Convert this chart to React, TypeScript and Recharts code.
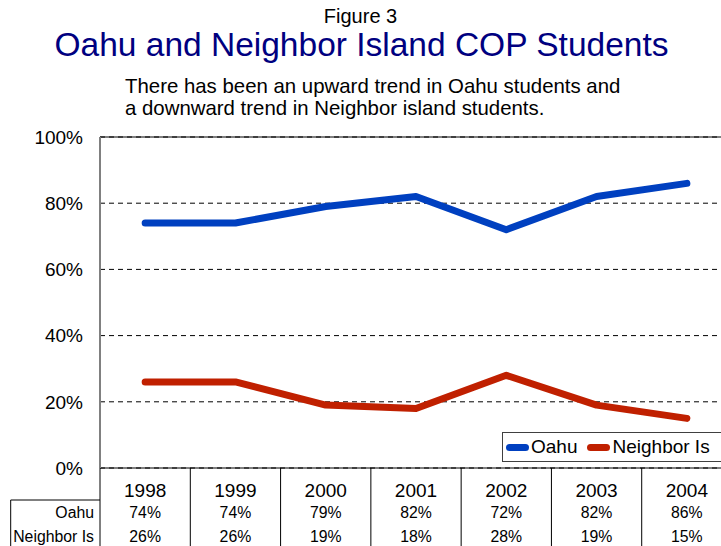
import { CartesianGrid, Line, LineChart, ReferenceLine, XAxis, YAxis } from 'recharts';

const years = ['1998', '1999', '2000', '2001', '2002', '2003', '2004'];
const oahu = [0.74, 0.74, 0.79, 0.82, 0.72, 0.82, 0.86];
const neighbor = [0.26, 0.26, 0.19, 0.18, 0.28, 0.19, 0.15];
const yTicks = [0, 0.2, 0.4, 0.6, 0.8, 1];
const seriesNames = ['Oahu', 'Neighbor Is'];
const seriesColors = ['#0040C0', '#C02000'];

const data = years.map((year, i) => ({ year, oahu: oahu[i], neighbor: neighbor[i] }));

const FONT = '"Liberation Sans", Arial, Helvetica, sans-serif';
const PAD = 45.15; // half a category step
const pct = (v: number) => `${Math.round(v * 100)}%`;

function TableTick(props: any) {
  const { x, y, payload } = props;
  const i = payload.index ?? props.index;
  const left = x - PAD;
  const right = x + PAD;
  const labelLeft = left - 2 * PAD + 1;
  return (
    <g fontFamily={FONT} fill="#000">
      <text x={x} y={y + 22} textAnchor="middle" dominantBaseline="central" fontSize={19}>
        {payload.value}
      </text>
      <text x={x} y={y + 44} textAnchor="middle" dominantBaseline="central" fontSize={15.8}>
        {pct(oahu[i])}
      </text>
      <text x={x} y={y + 68} textAnchor="middle" dominantBaseline="central" fontSize={15.8}>
        {pct(neighbor[i])}
      </text>
      <line x1={right} x2={right} y1={y} y2={y + 80} stroke="#000" strokeWidth={1} />
      {i === 0 && (
        <>
          <line x1={left} x2={left} y1={y} y2={y + 80} stroke="#000" strokeWidth={1} />
          <line x1={labelLeft} x2={left} y1={y + 32} y2={y + 32} stroke="#000" strokeWidth={1} />
          <line x1={labelLeft} x2={labelLeft} y1={y + 32} y2={y + 80} stroke="#000" strokeWidth={1} />
          <text x={left - 6} y={y + 44} textAnchor="end" dominantBaseline="central" fontSize={15.8}>
            {seriesNames[0]}
          </text>
          <text x={left - 6} y={y + 68} textAnchor="end" dominantBaseline="central" fontSize={15.8}>
            {seriesNames[1]}
          </text>
        </>
      )}
    </g>
  );
}

export default function App() {
  return (
    <div
      style={{
        position: 'absolute',
        left: 0,
        top: 0,
        width: 721,
        height: 546,
        overflow: 'hidden',
        background: '#fff',
        fontFamily: FONT,
        color: '#000',
      }}
    >
      <div style={{ position: 'absolute', left: 0, top: 6, width: 721, textAlign: 'center', fontSize: 20, lineHeight: '20px' }}>
        Figure 3
      </div>
      <div
        style={{
          position: 'absolute',
          left: 0,
          top: 28,
          width: 723,
          textAlign: 'center',
          fontSize: 33.5,
          lineHeight: '34px',
          color: '#000080',
          whiteSpace: 'nowrap',
        }}
      >
        Oahu and Neighbor Island COP Students
      </div>
      <div style={{ position: 'absolute', left: 125, top: 75, fontSize: 20.4, lineHeight: '22px', whiteSpace: 'nowrap' }}>
        There has been an upward trend in Oahu students and
        <br />
        a downward trend in Neighbor island students.
      </div>

      <div style={{ position: 'absolute', left: 0, top: 0 }}>
        <LineChart width={740} height={546} data={data} margin={{ top: 137, right: 8, bottom: 0, left: 0 }}>
          <CartesianGrid vertical={false} stroke="#000" strokeDasharray="5 4" />
          <XAxis
            dataKey="year"
            padding={{ left: PAD, right: PAD }}
            interval={0}
            tickLine={false}
            tickSize={0}
            tickMargin={0}
            axisLine={{ stroke: '#000', strokeWidth: 1 }}
            tick={<TableTick />}
            height={78}
          />
          <YAxis
            width={100}
            domain={[0, 1]}
            ticks={yTicks}
            tickFormatter={pct}
            tickLine={false}
            tickSize={0}
            tickMargin={17}
            axisLine={{ stroke: '#808080', strokeWidth: 2 }}
            tick={{ fill: '#000', fontSize: 19, fontFamily: FONT }}
          />
          <ReferenceLine y={1} stroke="#000" strokeWidth={1} />
          <Line
            dataKey="oahu"
            name={seriesNames[0]}
            stroke={seriesColors[0]}
            strokeWidth={7}
            strokeLinecap="round"
            strokeLinejoin="round"
            dot={false}
            isAnimationActive={false}
          />
          <Line
            dataKey="neighbor"
            name={seriesNames[1]}
            stroke={seriesColors[1]}
            strokeWidth={7}
            strokeLinecap="round"
            strokeLinejoin="round"
            dot={false}
            isAnimationActive={false}
          />
        </LineChart>
      </div>

      <div
        style={{
          position: 'absolute',
          left: 502,
          top: 432,
          width: 240,
          height: 28,
          border: '1px solid #404040',
          background: '#fff',
          display: 'flex',
          alignItems: 'center',
          fontSize: 19,
          whiteSpace: 'nowrap',
        }}
      >
        {seriesNames.map((name, i) => (
          <div key={name} style={{ display: 'flex', alignItems: 'center', marginLeft: i === 0 ? 3 : 10 }}>
            <span style={{ display: 'inline-block', width: 23, height: 7, borderRadius: 4, background: seriesColors[i] }} />
            <span style={{ marginLeft: 2 }}>{name}</span>
          </div>
        ))}
      </div>
    </div>
  );
}
